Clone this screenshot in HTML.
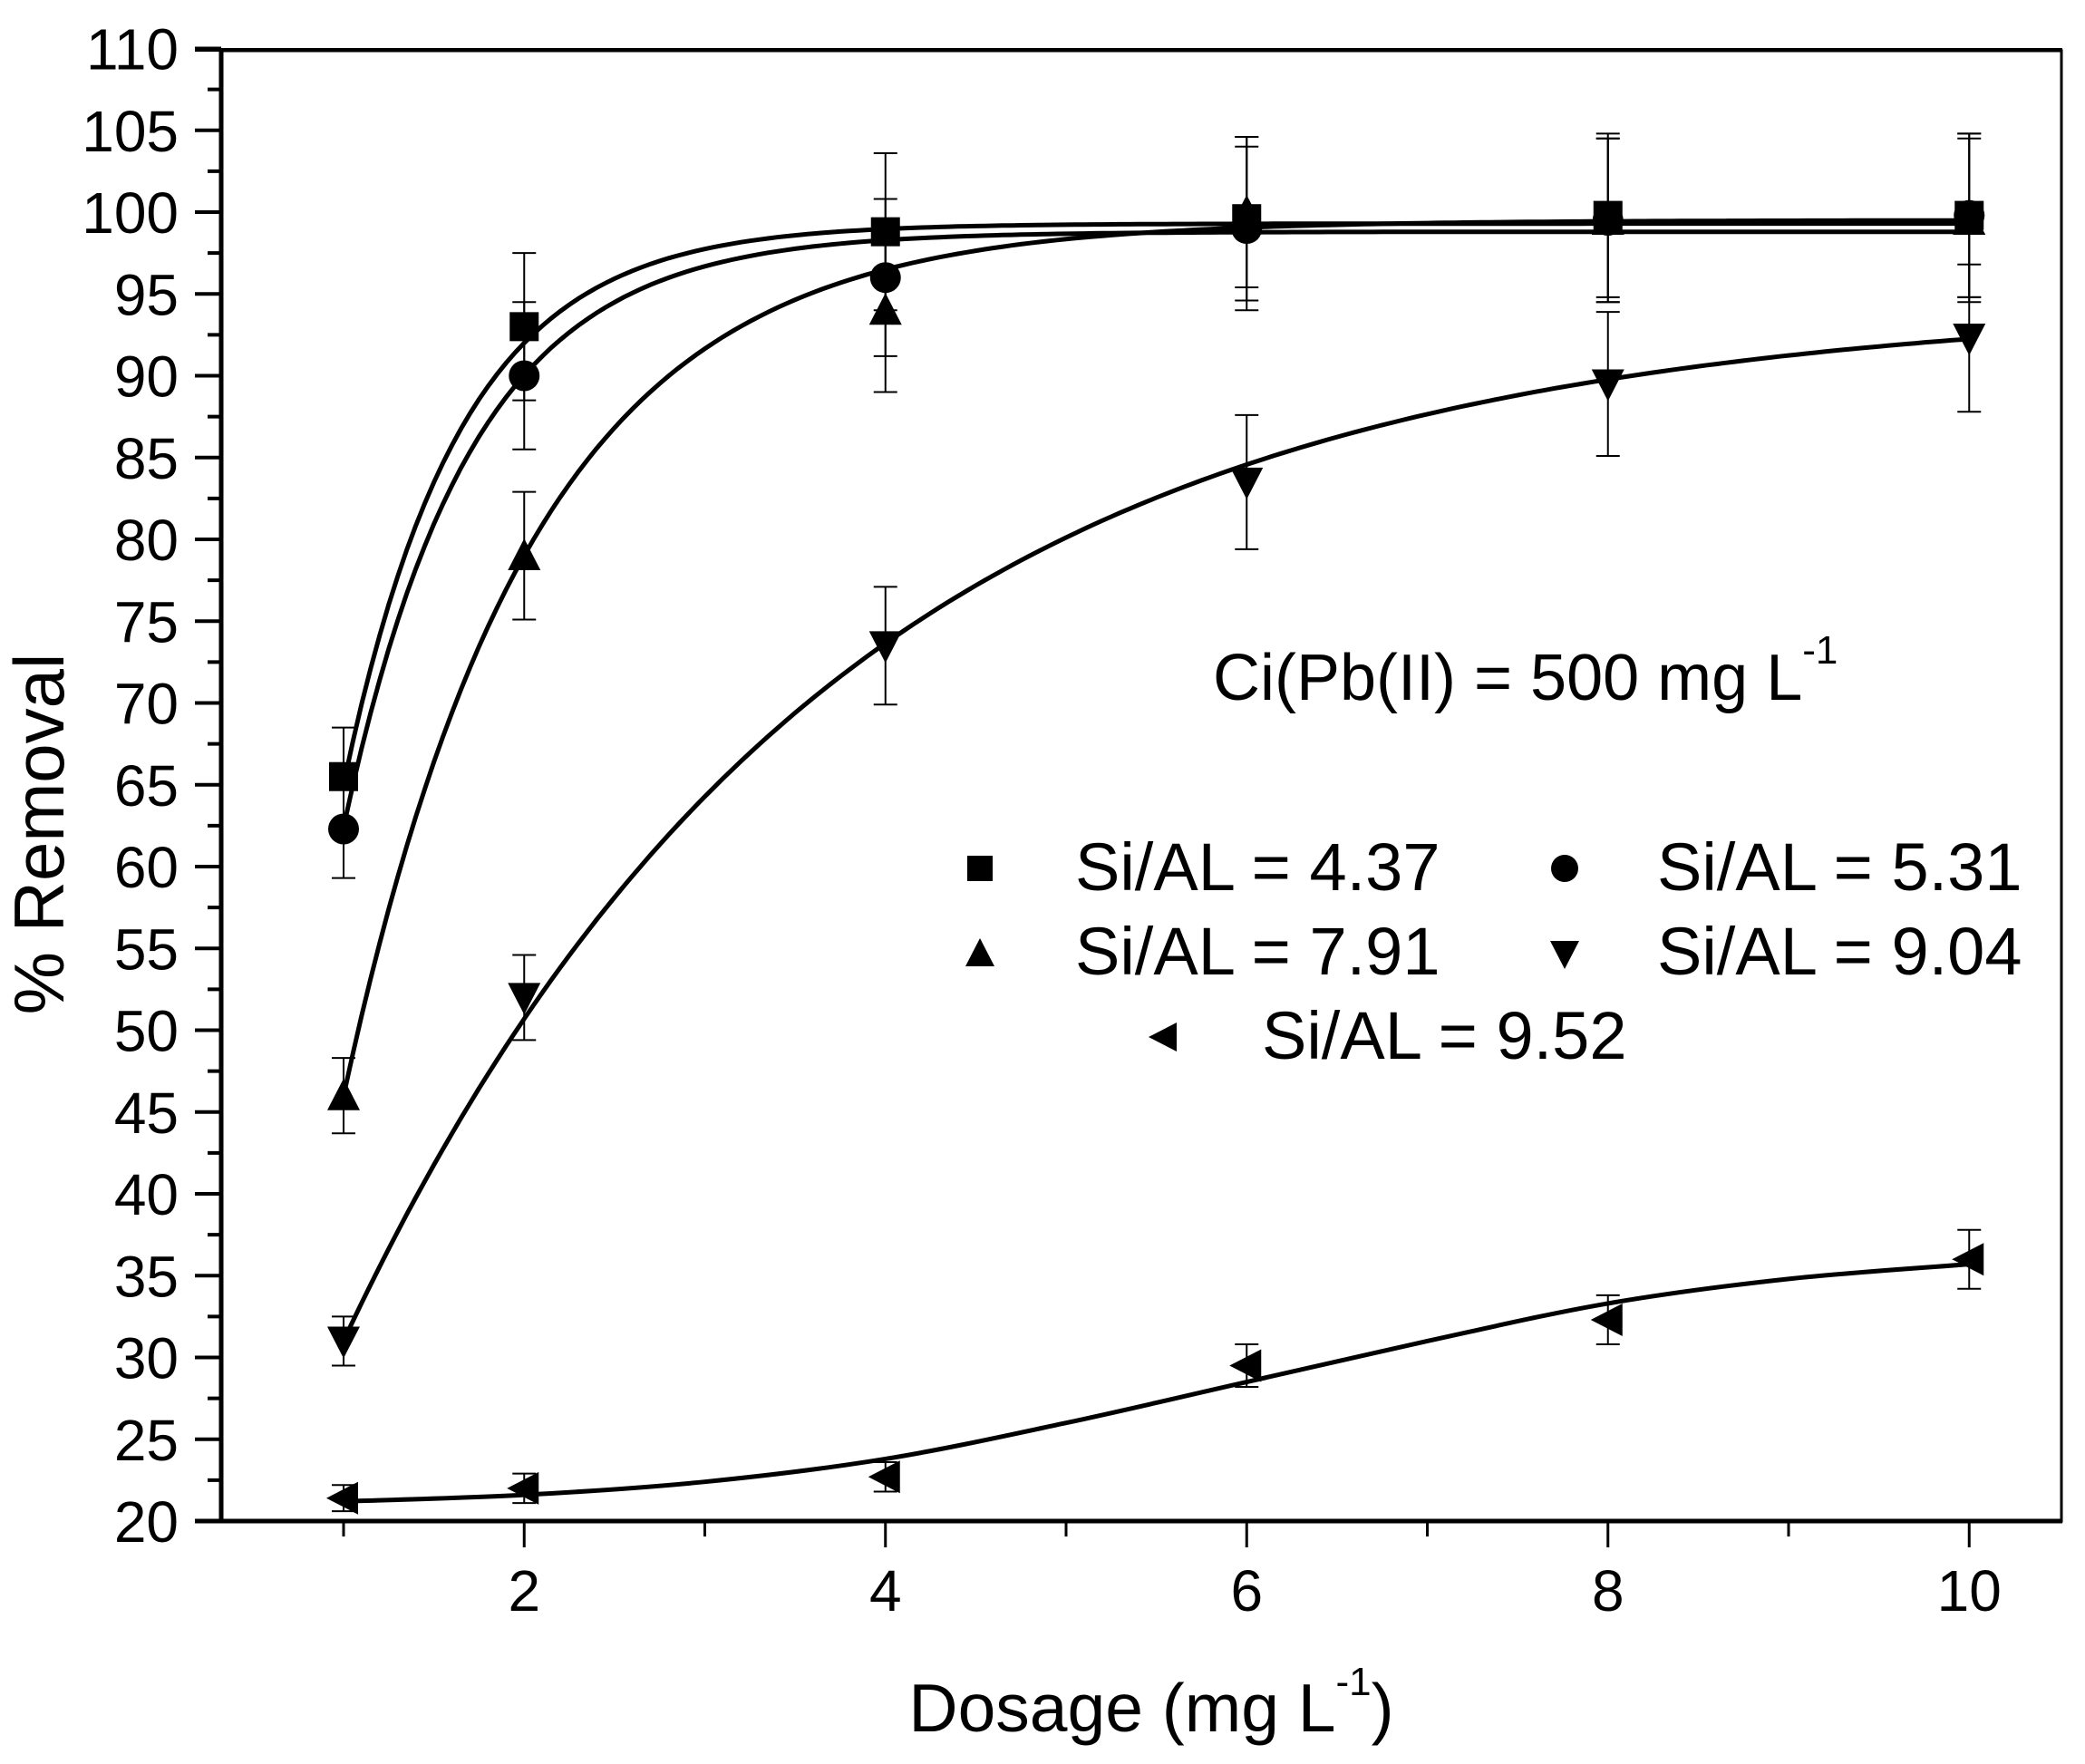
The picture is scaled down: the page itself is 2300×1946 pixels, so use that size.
<!DOCTYPE html>
<html><head><meta charset="utf-8"><style>
html,body{margin:0;padding:0;background:#fff;}
svg{display:block;font-family:"Liberation Sans",Arial,sans-serif;}
</style></head><body>
<svg id="s" width="2300" height="1946" viewBox="0 0 2300 1946" xmlns="http://www.w3.org/2000/svg"></svg>
<script>
const s=document.getElementById('s');
const X=x=>379+(x-1)*199.25, Y=y=>1678-(y-20)*18.05;
let h='';
h+=`<rect x="244" y="56" width="2030" height="1622" fill="none" stroke="#000" stroke-width="3"/>`;
h+=`<line x1="215" y1="55" x2="2275" y2="55" stroke="#000" stroke-width="4"/>`;
h+=`<line x1="215" y1="1678" x2="2275" y2="1678" stroke="#000" stroke-width="5"/>`;
h+=`<line x1="244" y1="55" x2="244" y2="1680" stroke="#000" stroke-width="5"/>`;
for(let v=20;v<=110;v+=2.5){const y=Y(v);const maj=(v%5===0);
 h+=`<line x1="${maj?215:229}" y1="${y}" x2="244" y2="${y}" stroke="#000" stroke-width="4"/>`;
 if(maj)h+=`<text x="197" y="${y+23}" font-size="64" text-anchor="end">${v}</text>`;}
for(let x=1;x<=10;x++){const px=X(x);const maj=x%2===0;
 h+=`<line x1="${px}" y1="1678" x2="${px}" y2="${maj?1707:1695}" stroke="#000" stroke-width="3"/>`;
 if(maj)h+=`<text x="${px}" y="1777" font-size="64" text-anchor="middle">${x}</text>`;}
h+=`<text x="1270" y="1910" font-size="75" text-anchor="middle">Dosage (mg L<tspan font-size="44" dy="-40">-1</tspan><tspan dy="40">)</tspan></text>`;
h+=`<text transform="translate(70,920) rotate(-90)" font-size="78" text-anchor="middle">% Removal</text>`;
h+=`<text x="1338" y="772" font-size="72">Ci(Pb(II) = 500 mg L<tspan font-size="44" dy="-40">-1</tspan></text>`;
function mk(t,x,y,r){r=r||16;
 if(t==='sq')return `<rect x="${x-r}" y="${y-r}" width="${2*r}" height="${2*r}"/>`;
 if(t==='ci')return `<circle cx="${x}" cy="${y}" r="${r+1}"/>`;
 if(t==='up')return `<polygon points="${x},${y-r-3} ${x-r-2},${y+r} ${x+r+2},${y+r}"/>`;
 if(t==='dn')return `<polygon points="${x},${y+r+3} ${x-r-2},${y-r} ${x+r+2},${y-r}"/>`;
 if(t==='lf')return `<polygon points="${x-r-3},${y} ${x+r},${y-r-2} ${x+r},${y+r+2}"/>`;}
function fcurve(f){let d='';for(let x=1;x<=10.001;x+=0.05){d+=(d?' L':'M')+X(x).toFixed(1)+','+Y(f(x)).toFixed(1);}
 return `<path d="${d}" fill="none" stroke="#000" stroke-width="5"/>`;}
function curve(pts){const p=pts.map(a=>[X(a[0]),Y(a[1])]);let d=`M${p[0][0]},${p[0][1]}`;
 for(let i=0;i<p.length-1;i++){const p0=p[i-1]||p[i],p1=p[i],p2=p[i+1],p3=p[i+2]||p2;
  d+=` C${p1[0]+(p2[0]-p0[0])/6},${p1[1]+(p2[1]-p0[1])/6} ${p2[0]-(p3[0]-p1[0])/6},${p2[1]-(p3[1]-p1[1])/6} ${p2[0]},${p2[1]}`;}
 return `<path d="${d}" fill="none" stroke="#000" stroke-width="5"/>`;}
const xs=[1,2,4,6,8,10];
const series=[
 {t:'sq',y:[65.5,93,98.8,99.6,99.8,99.8],e:[3,4.5,4.8,5,5,5],f:x=>99.3-161*Math.exp(-1.547*x)},
 {t:'ci',y:[62.3,90,96,99,99.5,99.8],e:[3,4.5,4.8,5,5,5],f:x=>98.8-151*Math.pow(0.241,x)},
 {t:'up',y:[46,79,94,100,99.5,99.5],e:[2.3,3.9,5,4.6,5,5],f:x=>99.5-139.7*Math.pow(0.383,x)},
 {t:'dn',y:[31,52,73.5,83.5,89.5,92.3],e:[1.5,2.6,3.6,4.1,4.4,4.5],f:x=>94.5-92*Math.pow(0.69,x)},
 {t:'lf',y:[21.4,22,22.7,29.5,32.3,36],e:[0.8,0.9,0.9,1.3,1.5,1.8],c:[[1,21.2],[2,21.6],[3,22.4],[4,23.8],[5,26],[6,28.5],[7,31],[8,33.3],[9,34.8],[10,35.7]]}];
series.forEach(S=>{
 h+=S.f?fcurve(S.f):curve(S.c);
 xs.forEach((x,i)=>{const px=X(x),y1=Y(S.y[i]+S.e[i]),y2=Y(S.y[i]-S.e[i]);
  h+=`<g stroke="#000" stroke-width="2"><line x1="${px}" y1="${y1}" x2="${px}" y2="${y2}"/><line x1="${px-13}" y1="${y1}" x2="${px+13}" y2="${y1}"/><line x1="${px-13}" y1="${y2}" x2="${px+13}" y2="${y2}"/></g>`;
  h+=mk(S.t,px,Y(S.y[i]));});
});
h+=mk('sq',1081,958,14)+`<text x="1186" y="982" font-size="74">Si/AL = 4.37</text>`;
h+=mk('ci',1726,958,14)+`<text x="1828" y="982" font-size="74">Si/AL = 5.31</text>`;
h+=mk('up',1081,1052,14)+`<text x="1186" y="1075" font-size="74">Si/AL = 7.91</text>`;
h+=mk('dn',1726,1052,14)+`<text x="1828" y="1075" font-size="74">Si/AL = 9.04</text>`;
h+=mk('lf',1284,1144,14)+`<text x="1392" y="1168" font-size="74">Si/AL = 9.52</text>`;
s.innerHTML=h;
</script>
</body></html>
